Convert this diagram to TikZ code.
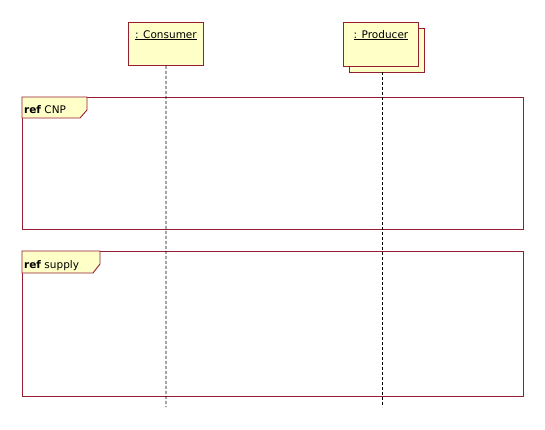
\documentclass[tikz,border=0pt]{standalone}
\usepackage{fontspec}
\setmainfont{DejaVu Sans}
\definecolor{umlred}{RGB}{150,30,50}
\definecolor{umlfill}{RGB}{255,255,200}
\begin{document}
\begin{tikzpicture}[x=1pt,y=-1pt,
  objbox/.style={draw=umlred,fill=umlfill,line width=0.9pt},
  frameline/.style={draw=umlred,line width=0.9pt},
  lifeline/.style={draw=black,dashed,dash pattern=on 3pt off 2pt,line width=0.8pt},
  lbl/.style={font=\fontsize{10.5}{12}\selectfont,inner sep=0pt}]
\useasboundingbox[fill=white] (0,0) rectangle (545,429);
% Consumer
\node[objbox,minimum width=75pt,minimum height=43pt,anchor=north west] (cons) at (128,22) {};
\node[lbl,anchor=base] (consl) at (166,38) {\underline{: Consumer}};
\coordinate (consend) at (166,407);
% Producer
\node[objbox,minimum width=75pt,minimum height=44pt,anchor=north west] (prodsh) at (349,28) {};
\node[objbox,minimum width=75pt,minimum height=44pt,anchor=north west] (prod) at (343,22) {};
\node[lbl,anchor=base] (prodl) at (381,38) {\underline{: Producer}};
\coordinate (prodtop) at (382,72);
\coordinate (prodend) at (382,407);
% frames
\node[frameline,minimum width=501pt,minimum height=132pt,anchor=north west] (f1) at (22,97) {};
\draw[frameline,fill=umlfill] (22,97) -- (87,97) -- (87,110) -- (80,118) -- (22,118) -- cycle;
\node[lbl,anchor=base west] (f1l) at (24,113) {\textbf{ref} CNP};
\node[frameline,minimum width=501pt,minimum height=145pt,anchor=north west] (f2) at (22,251) {};
\draw[frameline,fill=umlfill] (22,251) -- (100,251) -- (100,264) -- (93,273) -- (22,273) -- cycle;
\node[lbl,anchor=base west] (f2l) at (24,268) {\textbf{ref} supply};
% lifelines
\draw[lifeline] (cons.south) -- (consend);
\draw[lifeline] (prodtop) -- (prodend);
\end{tikzpicture}
\end{document}
